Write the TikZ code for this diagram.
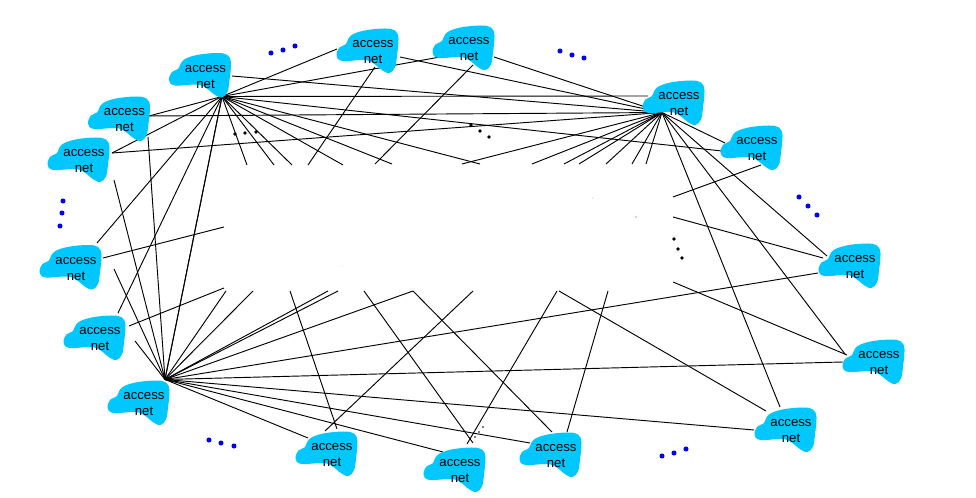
\documentclass[tikz,border=0pt]{standalone}
\usepackage{fontspec}
\setmainfont{Liberation Sans}
\usetikzlibrary{backgrounds}
\definecolor{cloudblue}{HTML}{00C8FF}
\definecolor{dotblue}{HTML}{0000F0}
\tikzset{
  link/.style={draw=black,line width=0.7pt},
  cloudfill/.style={fill=cloudblue,draw=none},
  netlabel/.style={inner sep=0pt,align=center,text=black,yshift=-1.1pt,font=\fontsize{9.9}{12}\selectfont},
  bluedot/.style={fill=dotblue,draw=none},
  blackdot/.style={fill=black,draw=none}
}
\newcommand{\accessnet}[3]{%
  \fill[cloudfill,shift={(#2,#3)}] plot[smooth cycle,tension=0.6] coordinates {
    (11.5,-22.5) (22,-20.5) (25.5,-12.5) (24,4.5) (22,16.5) (16.5,22) (9.5,19.5)
    (-5.5,9.5) (-30.5,10) (-36.5,4.5) (-33.5,-3.5) (-27.5,-6.5) (-22,-15.5) (-8.5,-20.5)};
  \node[netlabel] (#1) at (#2,#3) {access\\net};}
\begin{document}
\begin{tikzpicture}[x=0.75pt,y=-0.75pt]
\useasboundingbox (0,0) rectangle (976,498);
% clouds
\accessnet{n1}{205.5}{75.5}
\accessnet{n2}{124.5}{119}
\accessnet{n3}{84}{160}
\accessnet{n4}{76}{267.5}
\accessnet{n5}{100}{338}
\accessnet{n6}{144}{403}
\accessnet{n7}{332}{454}
\accessnet{n8}{460}{470}
\accessnet{n9}{556}{455}
\accessnet{n10}{791}{430}
\accessnet{n11}{879}{362}
\accessnet{n12}{855}{266}
\accessnet{n13}{757}{148}
\accessnet{n14}{679}{103}
\accessnet{n15}{469}{48}
\accessnet{n16}{373}{51}
% hubs and free ends
\coordinate (hubA) at (222,96.5);
\coordinate (hubB) at (662,112.5);
\coordinate (hubC) at (165,379.5);
\foreach \n/\x/\y in {
  a1/337/49, a2/440/57, a3/648/96, a4/722/151, a5/247/165, a6/274/165, a7/292/165,
  a8/343/165, a9/392/164, a10/480/164, a11/97/243, a12/118/313, e2/149/116, e3/112/153,
  e1/232/76, e16/400/57, e15/494/57,
  b1/462/164, b2/532/164, b3/564/164, b4/579/164, b5/606/164, b6/632/164, b7/646/164,
  b8/725/143, b9/780/407, b10/845/354, b11/827/256,
  c1/114/180, c2/148/137, c3/114/269, c4/135/341, c5/226/291, c6/253/291, c7/328/291,
  c8/338/291, c9/413/291, c10/818/273, c11/843/362, c12/754/430, c13/530/443, c14/443/452,
  c15/308/438,
  d1a/375/67, d1b/308/165, d2a/473/65, d2b/375/164,
  d3a/103/258, d3b/224/227, d4a/129/326, d4b/224/288,
  d5a/290/291, d5b/337/429, d6a/325/431, d6b/473/291, d7a/364/291, d7b/473/443,
  d8b/552/432, d9a/557/291, d9b/467/444, d10a/608/291, d10b/567/432,
  d11a/559/291, d11b/766/411, d12a/673/282, d12b/847/355,
  d13a/673/217, d13b/823/258, d14a/673/197, d14b/761/165%
} \coordinate (\n) at (\x,\y);
% connectors behind the clouds
\begin{pgfonlayer}{background}
\foreach \p/\q in {
  hubA/a1, hubA/a2, hubA/a3, hubA/a4, hubA/a5, hubA/a6, hubA/a7, hubA/a8, hubA/a9, hubA/a10,
  hubA/a11, hubA/a12, hubA/e2, hubA/e3, hubA/hubC, hubA/hubC,
  hubB/e1, hubB/e16, hubB/e15, hubB/e2, hubB/e3, hubB/b1, hubB/b2, hubB/b3, hubB/b4, hubB/b5,
  hubB/b6, hubB/b7, hubB/b8, hubB/b9, hubB/b10, hubB/b11,
  hubC/c1, hubC/c2, hubC/c3, hubC/c4, hubC/c5, hubC/c6, hubC/c7, hubC/c8, hubC/c9, hubC/c10,
  hubC/c11, hubC/c12, hubC/c13, hubC/c14, hubC/c15,
  d1a/d1b, d2a/d2b, d3a/d3b, d4a/d4b, d5a/d5b, d6a/d6b, d7a/d7b, c9/d8b, d9a/d9b, d10a/d10b,
  d11a/d11b, d12a/d12b, d13a/d13b, d14a/d14b%
} \draw[link] (\p) -- (\q);
\end{pgfonlayer}
% dots
\foreach \x/\y in {271/53,283/50,295/46, 63/201,62/213,60/226, 560/51,572/55,584/58,
  799/197,808/206,817/215, 209/440,221/443,234/446, 662/456,674/453,686/449}
  \fill[bluedot] (\x,\y) circle (1.9pt);
\foreach \x/\y in {235/134,245/133,256/132, 471/125,480/131,489/137, 674/239,678/249,682/258}
  \fill[blackdot] (\x,\y) circle (1.4pt);
\foreach \x/\y in {483/427,479/432,475/437}
  \fill[blackdot] (\x,\y) circle (0.6pt);
\fill[dotblue] (593,198) circle (0.3pt);
\fill[red] (636,217) circle (0.4pt);
\fill[orange] (342,266) circle (0.3pt);
\end{tikzpicture}
\end{document}
